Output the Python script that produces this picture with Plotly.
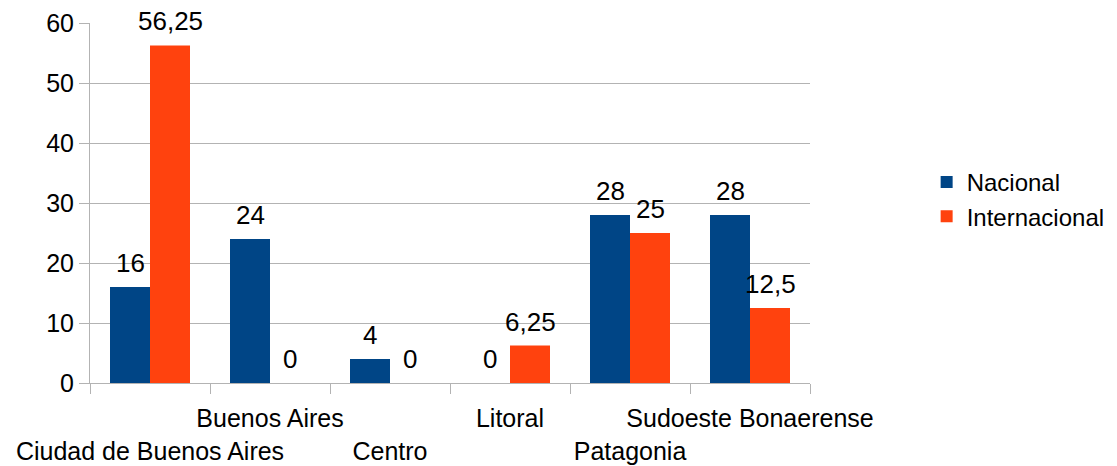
import plotly.graph_objects as go

regiones = ["Ciudad de Buenos Aires", "Buenos Aires", "Centro", "Litoral",
            "Patagonia", "Sudoeste Bonaerense"]
nacional = [16, 24, 4, 0, 28, 28]
internacional = [56.25, 0, 0, 6.25, 25, 12.5]
y_ticks = [0, 10, 20, 30, 40, 50, 60]

AZUL = "#004586"
NARANJA = "#ff420e"
GRIS = "#b3b3b3"
FUENTE = "Liberation Sans, Arial, sans-serif"


def etiqueta(v):
    # coma decimal, como en la planilla original
    return f"{v:g}".replace(".", ",")


# etiquetas escalonadas en dos filas
ticktext = [("<br>" + r) if i % 2 == 0 else r for i, r in enumerate(regiones)]

series = [("Nacional", nacional, AZUL, -20),
          ("Internacional", internacional, NARANJA, 20)]

fig = go.Figure()
for nombre, vals, color, _ in series:
    fig.add_trace(go.Bar(
        name=nombre,
        x=regiones,
        y=vals,
        marker=dict(color=color, line=dict(width=0)),
    ))

# rótulos de valor encima de cada barra
for nombre, vals, color, desplaz in series:
    for reg, v in zip(regiones, vals):
        fig.add_annotation(
            x=reg, y=v, xref="x", yref="y",
            text=etiqueta(v),
            showarrow=False,
            xshift=desplaz, yshift=7,
            yanchor="bottom",
            font=dict(size=26, color="black", family=FUENTE),
        )

# la página deja 8 px de margen en el body: se compensa en el tamaño
fig.update_layout(
    width=1109,
    height=458,
    barmode="group",
    bargap=1 / 3,
    bargroupgap=0,
    plot_bgcolor="white",
    paper_bgcolor="white",
    font=dict(family=FUENTE, size=24, color="black"),
    margin=dict(l=82, r=307, t=15, b=83, autoexpand=False),
    showlegend=True,
    legend=dict(
        x=1.162, xanchor="left", y=0.51, yanchor="middle",
        font=dict(size=24),
        bgcolor="rgba(0,0,0,0)",
    ),
)

fig.update_xaxes(
    tickmode="array",
    tickvals=regiones,
    ticktext=ticktext,
    tickson="boundaries",
    ticks="outside",
    ticklen=10,
    tickcolor=GRIS,
    showline=True,
    linecolor=GRIS,
    linewidth=1,
    showgrid=False,
    tickangle=0,
    tickfont=dict(size=25),
    ticklabelstandoff=13,
    automargin=False,
)

fig.update_yaxes(
    range=[0, 60],
    tickvals=y_ticks,
    ticks="outside",
    ticklen=10,
    tickcolor=GRIS,
    showline=True,
    linecolor=GRIS,
    linewidth=1,
    showgrid=True,
    gridcolor=GRIS,
    gridwidth=1,
    zeroline=False,
    tickfont=dict(size=25),
    automargin=False,
)

fig.write_html("out.html")
